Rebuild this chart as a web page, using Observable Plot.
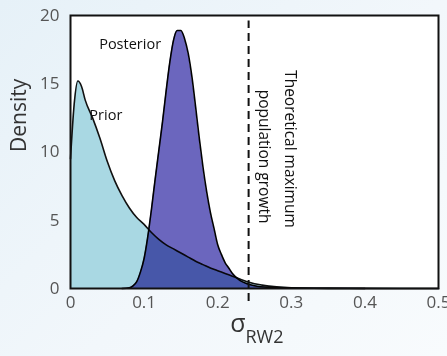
<!DOCTYPE html>
<html><head><meta charset="utf-8">
<script src="https://cdn.jsdelivr.net/npm/d3@7"></script>
<script src="https://cdn.jsdelivr.net/npm/@observablehq/plot@0.6"></script>
<style>
html,body{margin:0;padding:0;}
body{width:447px;height:356px;overflow:hidden;background:linear-gradient(135deg,#e6f1f8 0%,#f2f7fb 55%,#f8fbfd 100%);font-family:"Open Sans",sans-serif;}
</style></head><body><div id="chart"></div>
<script>
const priorX = [0,0.005,0.01,0.015,0.02,0.03,0.04,0.05,0.06,0.07,0.08,0.09,0.1,0.11,0.12,0.13,0.14,0.15,0.16,0.17,0.18,0.19,0.2,0.21,0.22,0.23,0.24,0.25,0.26,0.28,0.3,0.35,0.4,0.5];
const priorY = [9.5,13.5,15.2,14.8,13.8,12.5,11.0,9.3,7.9,6.8,5.9,5.2,4.7,4.1,3.6,3.2,2.9,2.6,2.3,2.0,1.75,1.5,1.3,1.1,0.9,0.7,0.5,0.35,0.25,0.12,0.06,0.02,0.01,0];
const postX = [0.07,0.08,0.085,0.09,0.095,0.1,0.105,0.11,0.115,0.12,0.125,0.13,0.135,0.14,0.145,0.15,0.155,0.16,0.165,0.17,0.175,0.18,0.185,0.19,0.195,0.2,0.205,0.21,0.215,0.22,0.23,0.24,0.25,0.27,0.3,0.35,0.4];
const postY = [0,0.05,0.2,0.5,1.2,2.2,3.8,5.8,8.0,10.1,12.2,14.5,16.6,18.2,18.9,18.9,18.3,17.2,15.5,13.3,11.0,8.9,7.1,5.6,4.4,3.2,2.5,1.9,1.5,1.1,0.6,0.35,0.2,0.08,0.03,0.01,0];
const xTicks = [0,0.1,0.2,0.3,0.4,0.5];
const yTicks = [0,5,10,15,20];
const maxGrowth = 0.242;
const labels = [{x:0.081,y:17.9,text:"Posterior"},{x:0.048,y:12.7,text:"Prior"}];
const vlabels = [{x:0.2986,y:16.0,text:"Theoretical maximum"},{x:0.263,y:14.56,text:"population growth"}];

const prior = priorX.map((x,i)=>({x,y:priorY[i]}));
const post = postX.map((x,i)=>({x,y:postY[i]}));

const plot = Plot.plot({
  width:447, height:356,
  marginLeft:70, marginRight:9, marginTop:15, marginBottom:68,
  style:{background:"transparent", fontFamily:"'Open Sans', sans-serif", overflow:"visible"},
  x:{domain:[0,0.5]},
  y:{domain:[0,20]},
  marks:[
    Plot.frame({fill:"white", stroke:"none"}),
    Plot.areaY(prior,{x:"x",y:"y",fill:"#a9d8e3",curve:"monotone-x"}),
    Plot.lineY(prior,{x:"x",y:"y",stroke:"#111",strokeWidth:1.6,curve:"monotone-x"}),
    Plot.areaY(post,{x:"x",y:"y",fill:"#6b66be",curve:"monotone-x",mixBlendMode:"multiply"}),
    Plot.lineY(post,{x:"x",y:"y",stroke:"#000",strokeWidth:1.6,curve:"monotone-x"}),
    Plot.ruleX([maxGrowth],{y1:-0.95,y2:19.6,stroke:"#111",strokeWidth:2,strokeDasharray:"8,5"}),
    Plot.frame({stroke:"#111",strokeWidth:2}),
    Plot.axisX({ticks:xTicks,tickSize:0,tickPadding:7,tickFormat:d=>String(d),fontSize:17,color:"#555",label:null}),
    Plot.axisY({ticks:yTicks,tickSize:0,tickPadding:11,fontSize:17,color:"#555",label:null}),
    Plot.text(["Density"],{frameAnchor:"left",rotate:-90,dx:-51,fontSize:21,fill:"#333"}),
    Plot.text(["σ"],{frameAnchor:"bottom",textAnchor:"end",dx:-9,dy:43,fontSize:25,fill:"#333"}),
    Plot.text(["RW2"],{frameAnchor:"bottom",textAnchor:"start",dx:-9,dy:54,fontSize:18,fill:"#333"}),
    Plot.text(labels,{x:"x",y:"y",text:"text",fontSize:14.5,fill:"#111"}),
    Plot.text(vlabels,{x:"x",y:"y",text:"text",rotate:90,textAnchor:"start",fontSize:15.5,fill:"#111"})
  ]
});
document.getElementById("chart").append(plot);
</script></body></html>
